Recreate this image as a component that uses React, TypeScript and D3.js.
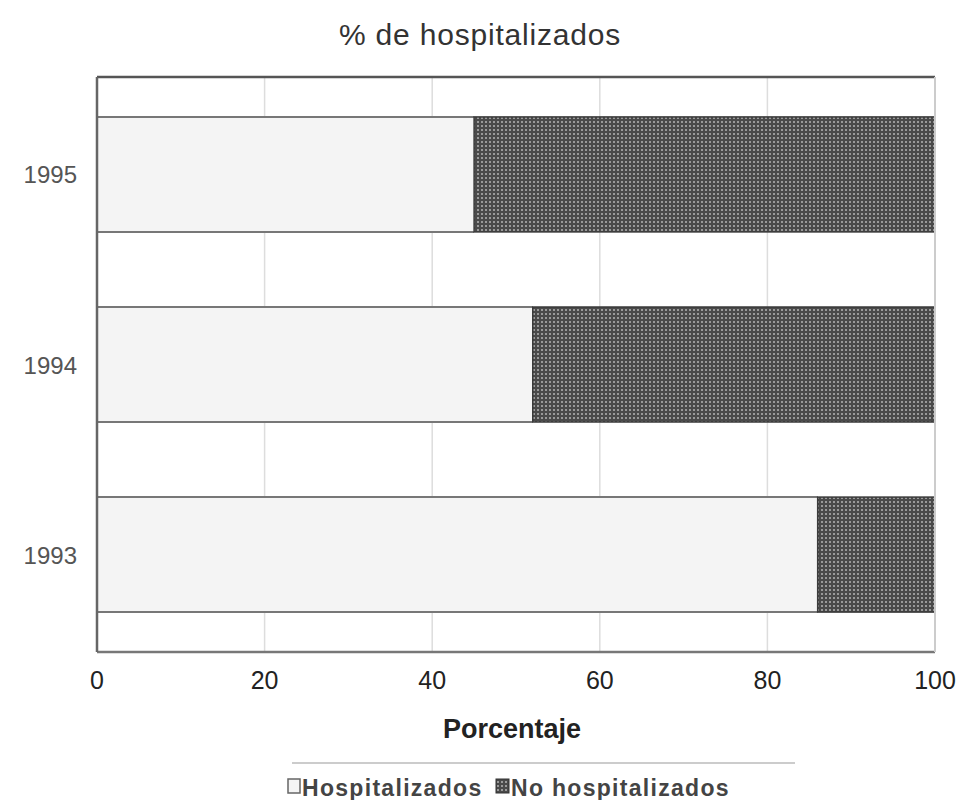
import React from "react";
import * as d3 from "d3";

const years = ["1995", "1994", "1993"];
const hospitalizados = [45, 52, 86];
const noHospitalizados = [55, 48, 14];
const xTicks = [0, 20, 40, 60, 80, 100];
const seriesNames = ["Hospitalizados", "No hospitalizados"];

export default function App() {
  const W = 975, H = 800;
  const left = 97, right = 935, top = 77, bottom = 652;
  const x = d3.scaleLinear().domain([0, 100]).range([left, right]);
  const y = d3.scaleBand().domain(years).range([top, bottom]).paddingInner(0.395).paddingOuter(0.21);
  const font = "'Liberation Sans', Arial, sans-serif";
  return (
    <svg width={W} height={H} style={{ position: "absolute", left: 0, top: 0, background: "#fff" }}>
      <defs>
        <pattern id="dots" width="4" height="4" patternUnits="userSpaceOnUse">
          <rect width="4" height="4" fill="#4a4a4a" />
          <rect x="1" y="1" width="2" height="2" fill="#9a9a9a" />
        </pattern>
      </defs>
      <text x={480} y={45} textAnchor="middle" fontFamily={font} fontSize={30} letterSpacing={0.8} fill="#333">% de hospitalizados</text>
      {/* gridlines */}
      {xTicks.slice(1, -1).map(t => (
        <line key={t} x1={x(t)} x2={x(t)} y1={top} y2={bottom} stroke="#ddd" strokeWidth={1.5} />
      ))}
      {/* bars */}
      {years.map((yr, i) => {
        const y0 = y(yr)!, bh = y.bandwidth();
        const h = hospitalizados[i];
        return (
          <g key={yr}>
            <rect x={x(0)} y={y0} width={x(h) - x(0)} height={bh} fill="#f4f4f4" />
            <line x1={x(0)} x2={x(h)} y1={y0} y2={y0} stroke="#777" strokeWidth={2} />
            <line x1={x(0)} x2={x(h)} y1={y0 + bh} y2={y0 + bh} stroke="#777" strokeWidth={2} />
            <rect x={x(h)} y={y0} width={x(h + noHospitalizados[i]) - x(h)} height={bh} fill="url(#dots)" stroke="#3a3a3a" strokeWidth={1.5} />
          </g>
        );
      })}
      {/* frame */}
      <line x1={left} x2={right} y1={top} y2={top} stroke="#555" strokeWidth={2.5} />
      <line x1={left} x2={right} y1={bottom} y2={bottom} stroke="#777" strokeWidth={2.5} />
      <line x1={left} x2={left} y1={top} y2={bottom} stroke="#666" strokeWidth={2.5} />
      <line x1={right} x2={right} y1={top} y2={bottom} stroke="#ccc" strokeWidth={2} />
      {/* y labels */}
      {years.map(yr => (
        <text key={yr} x={77} y={y(yr)! + y.bandwidth() / 2 + 9} textAnchor="end" fontFamily={font} fontSize={24} fill="#555">{yr}</text>
      ))}
      {/* x ticks */}
      {xTicks.map(t => (
        <text key={t} x={x(t)} y={689} textAnchor="middle" fontFamily={font} fontSize={25} fill="#222">{t}</text>
      ))}
      <text x={512} y={738} textAnchor="middle" fontFamily={font} fontSize={27} fontWeight="bold" fill="#222">Porcentaje</text>
      {/* legend */}
      <line x1={292} x2={795} y1={763} y2={763} stroke="#bbb" strokeWidth={1.5} />
      <rect x={288} y={779} width={12} height={14} fill="#f4f4f4" stroke="#666" strokeWidth={1.5} />
      <text x={302} y={796} fontFamily={font} fontSize={23} fontWeight="bold" letterSpacing={1.3} fill="#444">{seriesNames[0]}</text>
      <rect x={496} y={779} width={13} height={14} fill="url(#dots)" stroke="#333" strokeWidth={1} />
      <text x={511} y={796} fontFamily={font} fontSize={23} fontWeight="bold" letterSpacing={1.3} fill="#444">{seriesNames[1]}</text>
    </svg>
  );
}
